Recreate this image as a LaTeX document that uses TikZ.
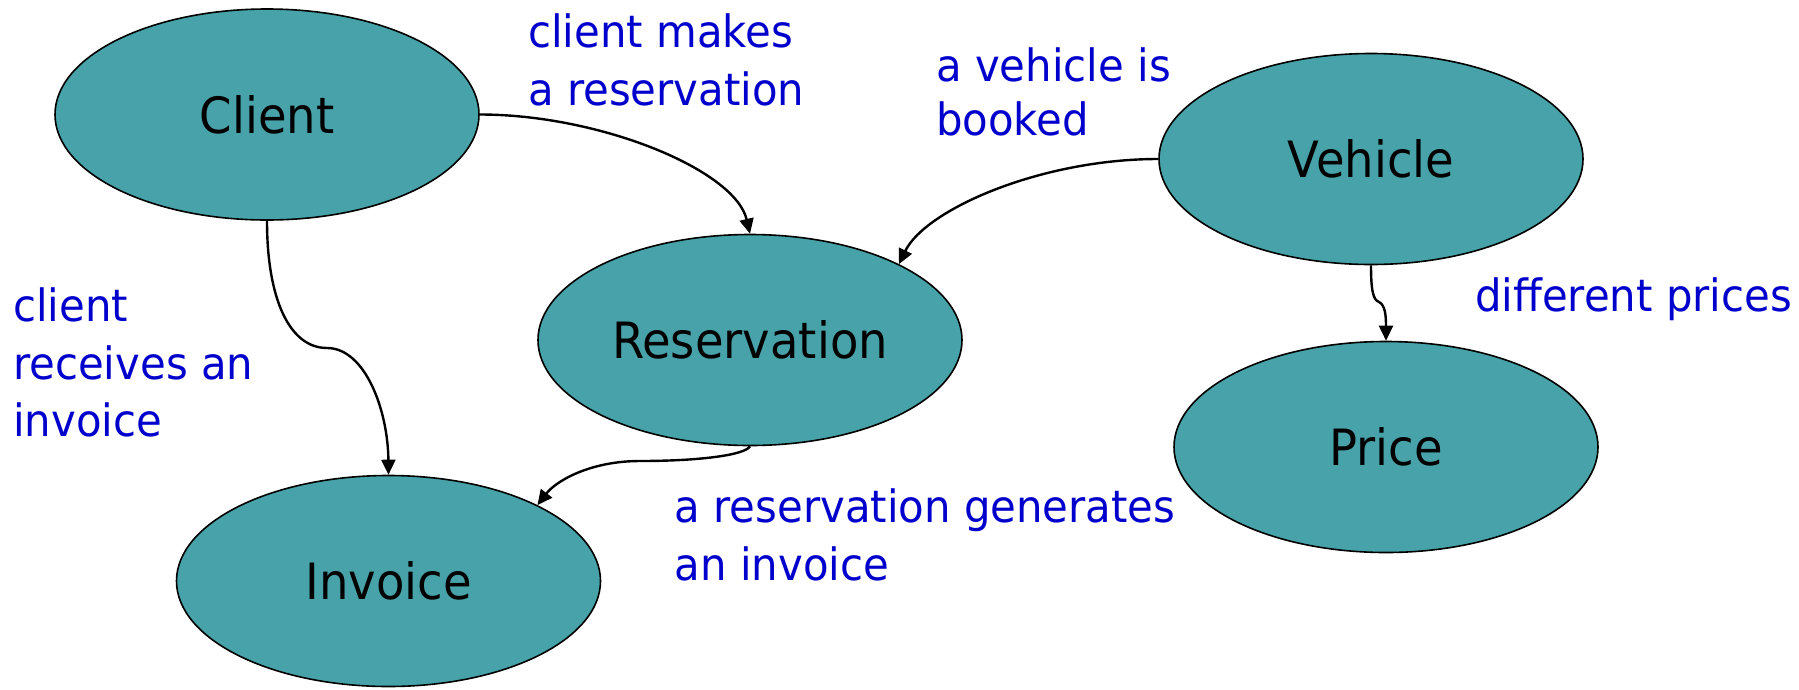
\documentclass[tikz,border=0pt]{standalone}
\usepackage{fontspec}
\usetikzlibrary{shapes.geometric,arrows.meta}
\newfontfamily\entityfont[FakeStretch=0.93]{DejaVu Sans}
\newfontfamily\notefont[FakeStretch=0.94]{DejaVu Sans}
\definecolor{entityfill}{RGB}{71,163,169}
\definecolor{noteblue}{RGB}{0,0,204}

\begin{document}
\begin{tikzpicture}[x=1pt,y=-1pt,
  entity/.style={ellipse, draw=black, line width=1.6pt, fill=entityfill,
    minimum width=424pt, minimum height=211pt, inner sep=0pt,
    font=\fontsize{50}{60}\entityfont},
  note/.style={anchor=base west, inner sep=0pt, text=noteblue,
    font=\fontsize{44.5}{57.5}\notefont},
  link/.style={line width=2.4pt, -{Triangle[length=15pt,width=14pt]}}]
\useasboundingbox (0,0) rectangle (1799,689);

% entities
\node[entity] (client)      at (267,114.5) {Client};
\node[entity] (reservation) at (750,340)   {Reservation};
\node[entity] (invoice)     at (388.5,581) {Invoice};
\node[entity] (vehicle)     at (1371,159)  {Vehicle};
\node[entity] (price)       at (1386,447)  {Price};

% relationships
\draw[link] (client.east) .. controls (600,114.5) and (735,170) .. (reservation.north);
\draw[link] (client.south) .. controls (267,300) and (290,348) .. (327,348)
            .. controls (365,348) and (388,410) .. (invoice.north);
\draw[link] (reservation.south) .. controls (745,455) and (700,461) .. (640,461)
            .. controls (590,461) and (556,481) .. (invoice.27);
\draw[link] (vehicle.west) .. controls (1040,159) and (925,210) .. (reservation.27);
\draw[link] (vehicle.south) .. controls (1371,290) and (1373,300) .. (1379,302)
            .. controls (1385,305) and (1386,315) .. (price.north);

% relationship notes
\node[note] (n1) at (528,47.3)
  {\vtop{\baselineskip=58.5pt\hbox{client makes}\hbox{a reservation}}};
\node[note] (n2) at (936,81.7)
  {\vtop{\baselineskip=53.5pt\hbox{a vehicle is}\hbox{booked}}};
\node[note] (n3) at (1475,311.7) {different prices};
\node[note] (n4) at (13,321.7)
  {\vtop{\baselineskip=57.5pt\hbox{client}\hbox{receives an}\hbox{invoice}}};
\node[note] (n5) at (674.5,522.7)
  {\vtop{\baselineskip=57.3pt\hbox{a reservation generates}\hbox{an invoice}}};
\end{tikzpicture}
\end{document}
